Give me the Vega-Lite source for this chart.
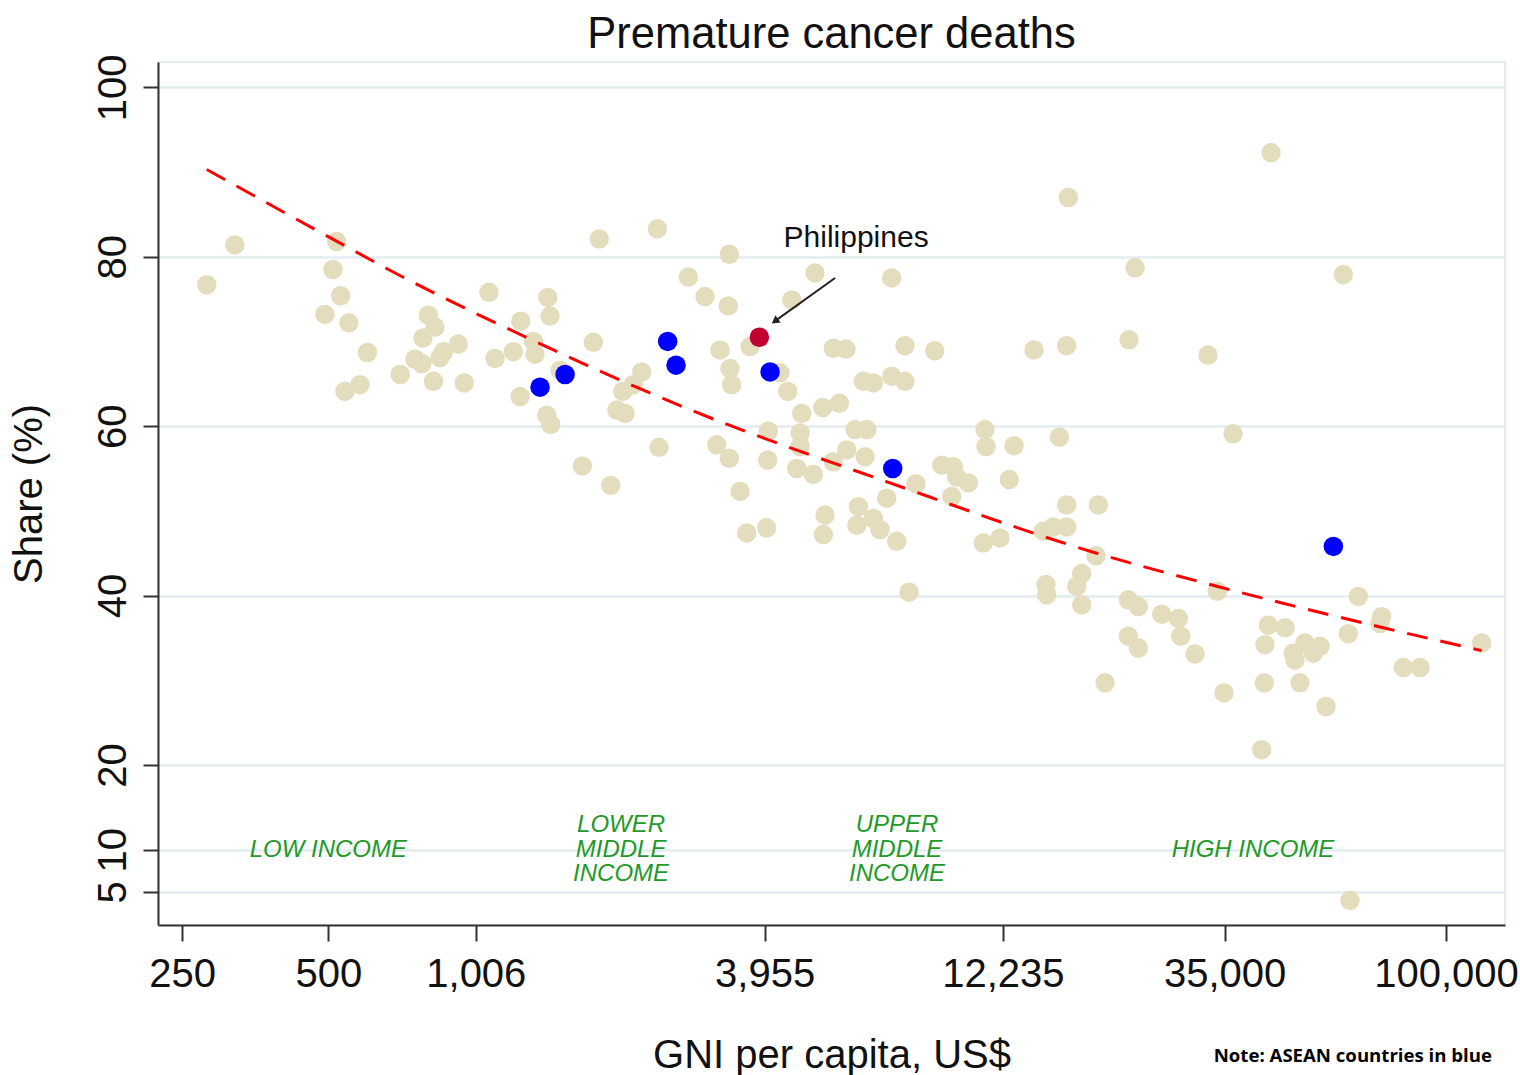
{
  "$schema": "https://vega.github.io/schema/vega-lite/v6.json",
  "autosize": {"type": "none"},
  "width": 1347,
  "height": 863,
  "padding": {"left": 158, "top": 62, "right": 15, "bottom": 150},
  "background": "white",
  "title": {"text": "Premature cancer deaths", "fontSize": 43.5, "font": "Liberation Sans", "fontWeight": "normal", "color": "#111", "anchor": "middle", "offset": -3},
  "config": {
    "font": "Liberation Sans",
    "view": {"stroke": "#e3edf0", "strokeWidth": 2}
  },
  "datasets": {
    "pts": [
      {"gni":281,"share":76.7,"group":"Other"},{"gni":321,"share":81.4,"group":"Other"},{"gni":520,"share":81.8,"group":"Other"},{"gni":511,"share":78.5,"group":"Other"},{"gni":530,"share":75.4,"group":"Other"},{"gni":492,"share":73.2,"group":"Other"},{"gni":551,"share":72.2,"group":"Other"},{"gni":602,"share":68.7,"group":"Other"},{"gni":541,"share":64.1,"group":"Other"},{"gni":581,"share":64.9,"group":"Other"},
      {"gni":703,"share":66.1,"group":"Other"},{"gni":803,"share":73.1,"group":"Other"},{"gni":829,"share":71.7,"group":"Other"},{"gni":783,"share":70.4,"group":"Other"},{"gni":863,"share":68.8,"group":"Other"},{"gni":926,"share":69.7,"group":"Other"},{"gni":849,"share":68.1,"group":"Other"},{"gni":779,"share":67.4,"group":"Other"},{"gni":823,"share":65.3,"group":"Other"},{"gni":754,"share":67.9,"group":"Other"},
      {"gni":952,"share":65.1,"group":"Other"},{"gni":1071,"share":75.8,"group":"Other"},{"gni":1245,"share":72.4,"group":"Other"},{"gni":1415,"share":75.2,"group":"Other"},{"gni":1430,"share":73.0,"group":"Other"},{"gni":1102,"share":68.0,"group":"Other"},{"gni":1202,"share":68.8,"group":"Other"},{"gni":1322,"share":70.0,"group":"Other"},{"gni":1332,"share":68.5,"group":"Other"},{"gni":1756,"share":69.9,"group":"Other"},
      {"gni":1241,"share":63.5,"group":"Other"},{"gni":1500,"share":66.6,"group":"Other"},{"gni":1408,"share":61.3,"group":"Other"},{"gni":1435,"share":60.2,"group":"Other"},{"gni":2019,"share":64.1,"group":"Other"},{"gni":1963,"share":61.9,"group":"Other"},{"gni":2041,"share":61.5,"group":"Other"},{"gni":2209,"share":66.4,"group":"Other"},{"gni":2123,"share":64.9,"group":"Other"},{"gni":2398,"share":57.5,"group":"Other"},
      {"gni":1667,"share":55.3,"group":"Other"},{"gni":1907,"share":53.0,"group":"Other"},{"gni":1806,"share":82.1,"group":"Other"},{"gni":2379,"share":83.3,"group":"Other"},{"gni":3346,"share":80.3,"group":"Other"},{"gni":2755,"share":77.6,"group":"Other"},{"gni":2982,"share":75.3,"group":"Other"},{"gni":3330,"share":74.2,"group":"Other"},{"gni":5023,"share":78.1,"group":"Other"},{"gni":7224,"share":77.5,"group":"Other"},
      {"gni":4498,"share":74.9,"group":"Other"},{"gni":3202,"share":69.0,"group":"Other"},{"gni":3691,"share":69.4,"group":"Other"},{"gni":3357,"share":66.8,"group":"Other"},{"gni":3384,"share":64.9,"group":"Other"},{"gni":4256,"share":66.3,"group":"Other"},{"gni":4414,"share":64.1,"group":"Other"},{"gni":5478,"share":69.2,"group":"Other"},{"gni":5818,"share":69.1,"group":"Other"},{"gni":7694,"share":69.5,"group":"Other"},
      {"gni":8858,"share":68.9,"group":"Other"},{"gni":14185,"share":69.0,"group":"Other"},{"gni":16560,"share":69.5,"group":"Other"},{"gni":6318,"share":65.3,"group":"Other"},{"gni":6622,"share":65.1,"group":"Other"},{"gni":7224,"share":65.9,"group":"Other"},{"gni":7694,"share":65.3,"group":"Other"},{"gni":5637,"share":62.7,"group":"Other"},{"gni":5211,"share":62.2,"group":"Other"},{"gni":4717,"share":61.5,"group":"Other"},
      {"gni":4679,"share":59.2,"group":"Other"},{"gni":4679,"share":57.6,"group":"Other"},{"gni":4025,"share":59.4,"group":"Other"},{"gni":3152,"share":57.8,"group":"Other"},{"gni":3346,"share":56.2,"group":"Other"},{"gni":4014,"share":56.0,"group":"Other"},{"gni":4606,"share":55.0,"group":"Other"},{"gni":4983,"share":54.3,"group":"Other"},{"gni":6074,"share":59.6,"group":"Other"},{"gni":6421,"share":59.6,"group":"Other"},
      {"gni":5837,"share":57.2,"group":"Other"},{"gni":6369,"share":56.4,"group":"Other"},{"gni":5478,"share":55.8,"group":"Other"},{"gni":8106,"share":53.2,"group":"Other"},{"gni":7056,"share":51.5,"group":"Other"},{"gni":11243,"share":59.6,"group":"Other"},{"gni":11298,"share":57.6,"group":"Other"},{"gni":12900,"share":57.7,"group":"Other"},{"gni":15994,"share":58.7,"group":"Other"},{"gni":9158,"share":55.4,"group":"Other"},
      {"gni":9676,"share":55.2,"group":"Other"},{"gni":9831,"share":54.0,"group":"Other"},{"gni":10389,"share":53.3,"group":"Other"},{"gni":9603,"share":51.7,"group":"Other"},{"gni":12615,"share":53.7,"group":"Other"},{"gni":16560,"share":50.7,"group":"Other"},{"gni":19238,"share":50.7,"group":"Other"},{"gni":14823,"share":47.6,"group":"Other"},{"gni":15543,"share":48.1,"group":"Other"},{"gni":16560,"share":48.1,"group":"Other"},
      {"gni":11153,"share":46.2,"group":"Other"},{"gni":12069,"share":46.8,"group":"Other"},{"gni":19026,"share":44.7,"group":"Other"},{"gni":17783,"share":42.6,"group":"Other"},{"gni":17366,"share":41.1,"group":"Other"},{"gni":17783,"share":38.9,"group":"Other"},{"gni":15014,"share":41.3,"group":"Other"},{"gni":15064,"share":40.1,"group":"Other"},{"gni":22181,"share":39.5,"group":"Other"},{"gni":23257,"share":38.7,"group":"Other"},
      {"gni":25974,"share":37.8,"group":"Other"},{"gni":28109,"share":37.3,"group":"Other"},{"gni":28428,"share":35.2,"group":"Other"},{"gni":30426,"share":33.1,"group":"Other"},{"gni":22181,"share":35.2,"group":"Other"},{"gni":23257,"share":33.8,"group":"Other"},{"gni":19861,"share":29.7,"group":"Other"},{"gni":33816,"share":40.5,"group":"Other"},{"gni":34906,"share":28.5,"group":"Other"},{"gni":41736,"share":21.8,"group":"Other"},
      {"gni":65977,"share":39.9,"group":"Other"},{"gni":73710,"share":37.5,"group":"Other"},{"gni":73114,"share":36.7,"group":"Other"},{"gni":118380,"share":34.4,"group":"Other"},{"gni":43061,"share":36.5,"group":"Other"},{"gni":46624,"share":36.2,"group":"Other"},{"gni":42393,"share":34.2,"group":"Other"},{"gni":48490,"share":33.2,"group":"Other"},{"gni":51237,"share":34.4,"group":"Other"},{"gni":55019,"share":34.0,"group":"Other"},
      {"gni":53300,"share":33.2,"group":"Other"},{"gni":48877,"share":32.4,"group":"Other"},{"gni":62924,"share":35.5,"group":"Other"},{"gni":81658,"share":31.5,"group":"Other"},{"gni":88404,"share":31.5,"group":"Other"},{"gni":42257,"share":29.7,"group":"Other"},{"gni":50047,"share":29.7,"group":"Other"},{"gni":56594,"share":26.9,"group":"Other"},{"gni":63434,"share":4.0,"group":"Other"},{"gni":43619,"share":92.3,"group":"Other"},
      {"gni":16687,"share":87.0,"group":"Other"},{"gni":22896,"share":78.7,"group":"Other"},{"gni":61450,"share":77.9,"group":"Other"},{"gni":22253,"share":70.2,"group":"Other"},{"gni":32354,"share":68.4,"group":"Other"},{"gni":36427,"share":59.1,"group":"Other"},{"gni":7843,"share":40.4,"group":"Other"},{"gni":5268,"share":49.5,"group":"Other"},{"gni":5225,"share":47.2,"group":"Other"},{"gni":6170,"share":50.5,"group":"Other"},
      {"gni":6123,"share":48.3,"group":"Other"},{"gni":6622,"share":49.1,"group":"Other"},{"gni":6835,"share":47.8,"group":"Other"},{"gni":7398,"share":46.4,"group":"Other"},{"gni":3520,"share":52.3,"group":"Other"},{"gni":3634,"share":47.4,"group":"Other"},{"gni":3995,"share":48.0,"group":"Other"},
      {"gni":1364,"share":64.6,"group":"ASEAN"},{"gni":1536,"share":66.1,"group":"ASEAN"},{"gni":2498,"share":70.0,"group":"ASEAN"},{"gni":2599,"share":67.2,"group":"ASEAN"},{"gni":4058,"share":66.4,"group":"ASEAN"},{"gni":7259,"share":55.0,"group":"ASEAN"},{"gni":58617,"share":45.8,"group":"ASEAN"},
      {"gni":3858,"share":70.5,"group":"Philippines"}
    ],
    "fit": [
      {"gni":281,"share":90.3},{"gni":537,"share":81.4},{"gni":665,"share":78.5},{"gni":1322,"share":70.1},{"gni":2790,"share":61.9},{"gni":7166,"share":53.3},{"gni":19090,"share":45.0},{"gni":33720,"share":41.1},{"gni":74270,"share":36.2},{"gni":118400,"share":33.5}
    ],
    "arrow": [{"gni":5523,"share":77.5,"gni2":4153,"share2":72.4}],
    "head": [{"gni":4153,"share":72.4}],
    "ann": [{"gni":6102,"share":82.2,"label":"Philippines"}],
    "income1": [
      {"gni":500,"share":10,"label":"LOW INCOME"},
      {"gni":40050,"share":10,"label":"HIGH INCOME"}
    ],
    "income3": [
      {"gni":2003,"share":10,"label":["LOWER","MIDDLE","INCOME"]},
      {"gni":7409,"share":10,"label":["UPPER","MIDDLE","INCOME"]}
    ],
    "note": [{"gni":124320,"share":-15.05,"label":"Note: ASEAN countries in blue"}]
  },
  "encoding": {
    "x": {
      "field": "gni", "type": "quantitative",
      "scale": {"type": "log", "domain": [223, 132250], "nice": false},
      "axis": {
        "title": "GNI per capita, US$", "values": [250, 500, 1006, 3955, 12235, 35000, 100000], "format": ",",
        "grid": false, "labelFontSize": 40, "labelColor": "#111", "labelPadding": 13, "labelFlush": false, "labelOverlap": false,
        "tickSize": 16, "tickWidth": 2, "tickColor": "#333", "domainColor": "#333", "domainWidth": 2,
        "titleFontSize": 40, "titleFontWeight": "normal", "titleColor": "#111", "titlePadding": 41
      }
    },
    "y": {
      "field": "share", "type": "quantitative",
      "scale": {"domain": [1.1, 103], "nice": false, "zero": false},
      "axis": {
        "title": "Share (%)", "values": [5, 10, 20, 40, 60, 80, 100],
        "grid": true, "gridColor": "#e3edf0", "gridWidth": 2.5,
        "labelFontSize": 40, "labelColor": "#111", "labelAngle": -90, "labelAlign": "center", "labelBaseline": "bottom", "labelPadding": 10, "labelFlush": false, "labelOverlap": false,
        "tickSize": 15, "tickWidth": 2, "tickColor": "#333", "domainColor": "#333", "domainWidth": 2,
        "titleFontSize": 40, "titleFontWeight": "normal", "titleColor": "#111", "titlePadding": 44
      }
    }
  },
  "layer": [
    {
      "data": {"name": "pts"},
      "mark": {"type": "point", "filled": true, "shape": "circle", "size": 380, "opacity": 1, "strokeWidth": 0},
      "encoding": {
        "color": {"field": "group", "type": "nominal", "legend": null,
          "scale": {"domain": ["Other", "ASEAN", "Philippines"], "range": ["#e3ddbd", "#0000ff", "#c00030"]}}
      }
    },
    {
      "data": {"name": "fit"},
      "mark": {"type": "line", "color": "#ff0000", "strokeWidth": 3, "strokeDash": [21, 13], "interpolate": "monotone"},
      "encoding": {}
    },
    {
      "data": {"name": "arrow"},
      "mark": {"type": "rule", "color": "#222", "strokeWidth": 2},
      "encoding": {"x2": {"field": "gni2"}, "y2": {"field": "share2"}}
    },
    {
      "data": {"name": "head"},
      "mark": {"type": "point", "shape": "triangle-up", "filled": true, "size": 80, "angle": 234, "color": "#222", "opacity": 1}
    },
    {
      "data": {"name": "ann"},
      "mark": {"type": "text", "fontSize": 30, "color": "#111", "align": "center", "baseline": "middle"},
      "encoding": {"text": {"field": "label"}}
    },
    {
      "data": {"name": "income1"},
      "mark": {"type": "text", "fontSize": 24, "fontStyle": "italic", "color": "#1e9a28", "align": "center", "baseline": "middle"},
      "encoding": {"text": {"field": "label"}}
    },
    {
      "data": {"name": "income3"},
      "mark": {"type": "text", "fontSize": 24, "fontStyle": "italic", "color": "#1e9a28", "align": "center", "baseline": "middle", "lineHeight": 24.5, "dy": -24.5},
      "encoding": {"text": {"field": "label"}}
    },
    {
      "data": {"name": "note"},
      "mark": {"type": "text", "font": "Open Sans", "fontWeight": "bold", "fontSize": 18.6, "color": "#000", "align": "right", "baseline": "alphabetic"},
      "encoding": {"text": {"field": "label"}}
    }
  ]
}
